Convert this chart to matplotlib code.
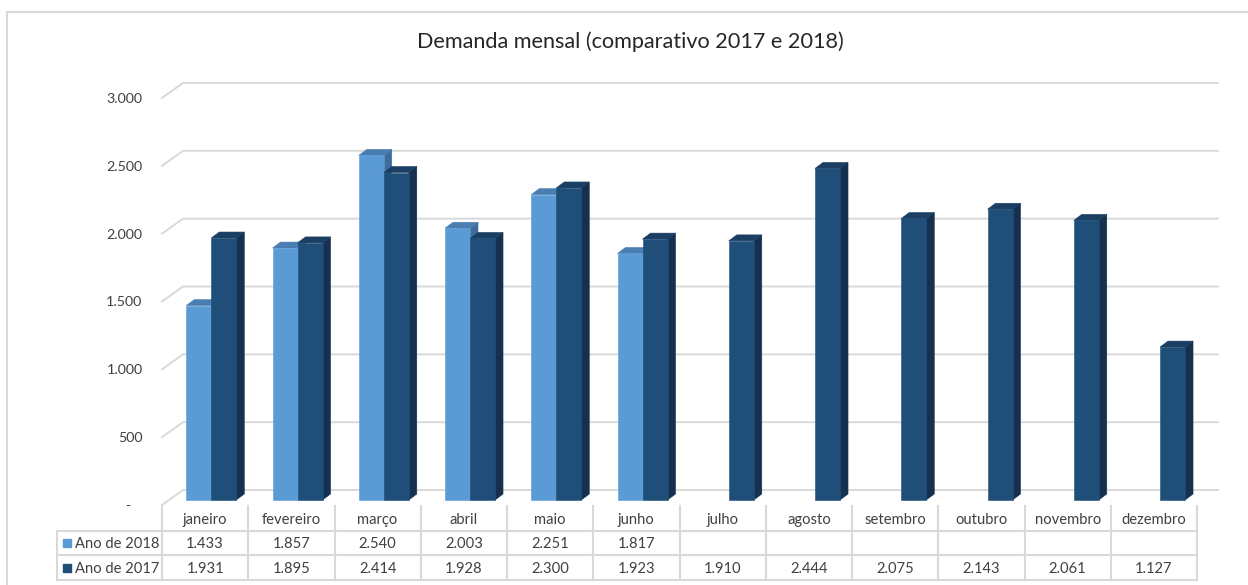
import matplotlib
matplotlib.use("Agg")
import matplotlib.pyplot as plt
from matplotlib.transforms import Affine2D
from matplotlib.patches import Polygon
from matplotlib.lines import Line2D

plt.rcParams["font.family"] = ["Lato", "DejaVu Sans"]

# ── data ─────────────────────────────────────────────────────────────────────
MONTHS = ["janeiro", "fevereiro", "março", "abril", "maio", "junho",
          "julho", "agosto", "setembro", "outubro", "novembro", "dezembro"]
DEMAND_2018 = [1433, 1857, 2540, 2003, 2251, 1817,
               None, None, None, None, None, None]
DEMAND_2017 = [1931, 1895, 2414, 1928, 2300, 1923,
               1910, 2444, 2075, 2143, 2061, 1127]
SERIES_LABELS = ["Ano de 2018", "Ano de 2017"]
YTICKS = [0, 500, 1000, 1500, 2000, 2500, 3000]
YTICK_LABELS = ["-   ", "500", "1.000", "1.500", "2.000", "2.500", "3.000"]
TITLE = "Demanda mensal (comparativo 2017 e 2018)"

# colours: front, top, side
LIGHT = ("#5B9BD5", "#4A7DB0", "#3F6C99")
DARK = ("#1F4E79", "#1A3F63", "#15314F")
GRID = "#D9D9D9"
TXT = "#404040"

W, H = 1248, 585


def fig_rect(left, top, right, bottom):
    return [left / W, 1 - bottom / H, (right - left) / W, (bottom - top) / H]


def fmt(v):
    return f"{v:,}".replace(",", ".")


fig = plt.figure(figsize=(W / 100, H / 100), dpi=100)

# chart border (left + top visible)
fig.add_artist(Line2D([7 / W, 7 / W], [0, 1 - 12 / H], color=GRID, lw=1.5))
fig.add_artist(Line2D([7 / W, 1], [1 - 12 / H, 1 - 12 / H], color=GRID, lw=1.5))

fig.text(630 / W, 1 - 42 / H, TITLE, ha="center", va="center",
         fontsize=15.6, color="#262626")

# ── plot area (front plane) ─────────────────────────────────────────────────
ax = fig.add_axes(fig_rect(162, 98, 1197, 505))
n = len(MONTHS)
ax.set_xlim(-0.5, n - 0.5)
ax.set_ylim(0, 3000)
for s in ax.spines.values():
    s.set_visible(False)
ax.set_xticks([])
ax.set_yticks(YTICKS)
ax.set_yticklabels(YTICK_LABELS, fontsize=10.3, color=TXT)
ax.tick_params(axis="y", length=0, pad=14)

ux = n / 1035.0          # data units per pixel, x
uy = 3000 / 407.0        # data units per pixel, y

# walls: side wall diagonals + back wall gridlines
wdx, wdy = 21 * ux, 15 * uy
for v in YTICKS:
    ax.plot([-0.5, -0.5 + wdx, n - 0.5 + wdx], [v, v + wdy, v + wdy],
            color=GRID, lw=1.4, clip_on=False, zorder=1)

# bars, pushed a bit back from the front plane
tr = ax.transData + Affine2D().translate(7, 5)
bw = 0.29
bdx, bdy = 8 * ux, 6 * uy


def draw_bar(x0, h, colors, z):
    front, top, side = colors
    side_face = Polygon([(x0 + bw, 0), (x0 + bw + bdx, bdy),
                         (x0 + bw + bdx, h + bdy), (x0 + bw, h)], closed=True,
                        facecolor=side, edgecolor=side, linewidth=0.4,
                        transform=tr, clip_on=False, zorder=z)
    top_face = Polygon([(x0, h), (x0 + bw, h), (x0 + bw + bdx, h + bdy),
                        (x0 + bdx, h + bdy)], closed=True, facecolor=top,
                       edgecolor=top, linewidth=0.4, transform=tr,
                       clip_on=False, zorder=z)
    ax.add_patch(side_face)
    ax.add_patch(top_face)
    bars = ax.bar([x0], [h], width=bw, align="edge", color=front,
                  edgecolor=front, linewidth=0.4, zorder=z + 0.5)
    for p in bars:
        p.set_transform(tr)
        p.set_clip_on(False)


z = 2
for i in range(n):
    if DEMAND_2018[i] is not None:
        draw_bar(i - 0.3, DEMAND_2018[i], LIGHT, z)
        z += 1
    draw_bar(i - 0.01, DEMAND_2017[i], DARK, z)
    z += 1

# ── data table ──────────────────────────────────────────────────────────────
tax = fig.add_axes(fig_rect(162, 506, 1197, 580))
tax.set_xlim(-0.5, n - 0.5)
tax.set_ylim(0, 3)
tax.axis("off")

leg_x = -0.5 - 105 * ux
for y in [0, 1, 2]:
    tax.plot([leg_x, n - 0.5], [y, y], color=GRID, lw=1.5, clip_on=False)
tax.plot([leg_x, leg_x], [0, 2], color=GRID, lw=1.5, clip_on=False)
for k in range(n + 1):
    tax.plot([k - 0.5, k - 0.5], [0, 3], color=GRID, lw=1.5, clip_on=False)

for i, m in enumerate(MONTHS):
    tax.text(i, 2.45, m, ha="center", va="center", fontsize=10.6, color=TXT)
    if DEMAND_2018[i] is not None:
        tax.text(i, 1.45, fmt(DEMAND_2018[i]), ha="center", va="center",
                 fontsize=10.6, color=TXT)
    tax.text(i, 0.45, fmt(DEMAND_2017[i]), ha="center", va="center",
             fontsize=10.6, color=TXT)

for row, (label, col) in zip([1.5, 0.5], zip(SERIES_LABELS, [LIGHT[0], DARK[0]])):
    tax.plot([leg_x + 10 * ux], [row], marker="s", markersize=5.8,
             color=col, linestyle="none", clip_on=False)
    tax.text(leg_x + 18 * ux, row - 0.05, label, ha="left", va="center",
             fontsize=10.6, color=TXT)

fig.savefig("out.png", dpi=100)
